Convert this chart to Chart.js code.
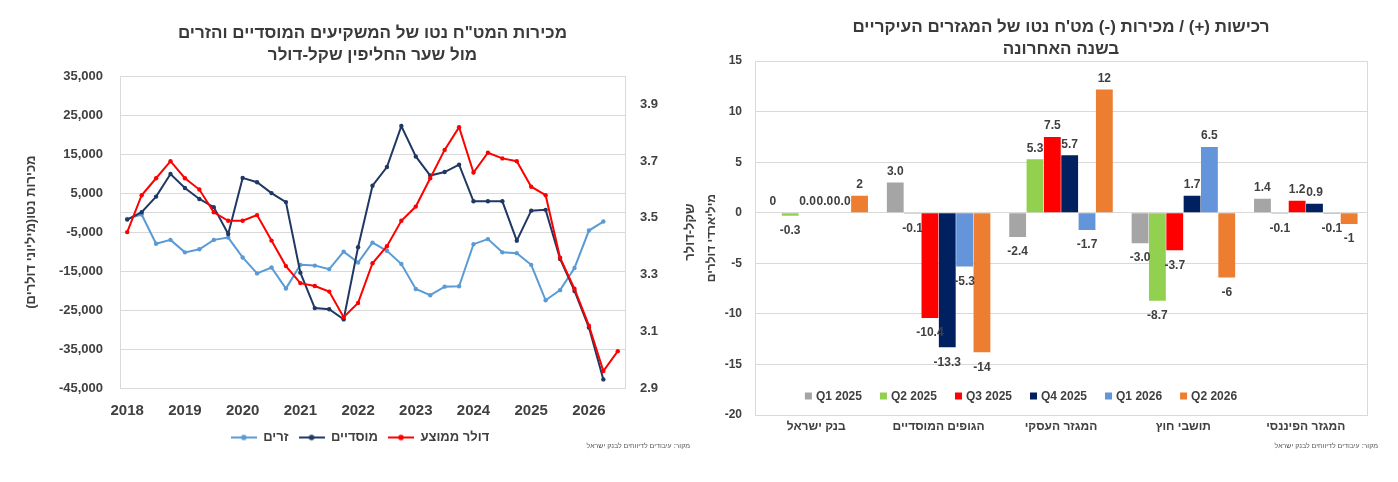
<!DOCTYPE html>
<html lang="he">
<head>
<meta charset="utf-8">
<title>מכירות מט"ח נטו</title>
<script src="https://cdn.jsdelivr.net/npm/chart.js@4.4.1/dist/chart.umd.min.js"></script>
<style>
  html, body { margin: 0; padding: 0; background: #fff; }
  #wrap { position: relative; width: 1398px; height: 482px; overflow: hidden; }
  #flowChart { position: absolute; left: 0; top: 0; }
  #sectorChart { position: absolute; left: 700px; top: 0; }
</style>
</head>
<body>
<div id="wrap">
  <canvas id="flowChart" width="700" height="482"></canvas>
  <canvas id="sectorChart" width="698" height="482"></canvas>
</div>
<script>
// ---- נתונים: גרף שמאלי (רבעוני) ----
const quarters = [
  'Q1 2018', 'Q2 2018', 'Q3 2018', 'Q4 2018',
  'Q1 2019', 'Q2 2019', 'Q3 2019', 'Q4 2019',
  'Q1 2020', 'Q2 2020', 'Q3 2020', 'Q4 2020',
  'Q1 2021', 'Q2 2021', 'Q3 2021', 'Q4 2021',
  'Q1 2022', 'Q2 2022', 'Q3 2022', 'Q4 2022',
  'Q1 2023', 'Q2 2023', 'Q3 2023', 'Q4 2023',
  'Q1 2024', 'Q2 2024', 'Q3 2024', 'Q4 2024',
  'Q1 2025', 'Q2 2025', 'Q3 2025', 'Q4 2025',
  'Q1 2026', 'Q2 2026', 'Q3 2026'
];

// זרים (מיליוני דולרים)
const foreigners = [
  -1600, -500, -8000, -7000, -10200, -9400, -7000, -6400,
  -11500, -15600, -14100, -19500, -13400, -13600, -14500, -10000,
  -12800, -7700, -9800, -13200, -19600, -21200, -19000, -18900,
  -8100, -6800, -10200, -10400, -13400, -22500, -19900, -14200,
  -4600, -2300, null
];

// מוסדיים (מיליוני דולרים)
const institutions = [
  -1800, 100, 4100, 9900, 6300, 3500, 1400, -5500,
  8900, 7800, 5000, 2700, -15400, -24500, -24800, -27400,
  -8900, 6900, 11700, 22200, 14400, 9500, 10400, 12300,
  2900, 2900, 2900, -7200, 500, 700, -11900, -20100,
  -29500, -42800, null
];

// דולר ממוצע (שקל-דולר)
const usdIls = [
  3.45, 3.58, 3.64, 3.70, 3.64, 3.60, 3.52, 3.49,
  3.49, 3.51, 3.42, 3.33, 3.27, 3.26, 3.24, 3.15,
  3.20, 3.34, 3.40, 3.49, 3.54, 3.64, 3.74, 3.82,
  3.66, 3.73, 3.71, 3.70, 3.61, 3.58, 3.36, 3.25,
  3.12, 2.96, 3.03
];

const flowTicks = [-45000, -35000, -25000, -15000, -5000, 5000, 15000, 25000, 35000];
const fxTicks = [2.9, 3.1, 3.3, 3.5, 3.7, 3.9];

// ---- נתונים: גרף ימני (מיליארדי דולרים) ----
const sectors = ['בנק ישראל', 'הגופים המוסדיים', 'המגזר העסקי', 'תושבי חוץ', 'המגזר הפיננסי'];
const periods = ['Q1 2025', 'Q2 2025', 'Q3 2025', 'Q4 2025', 'Q1 2026', 'Q2 2026'];

const q1_2025 = [0, 3.0, -2.4, -3.0, 1.4];
const q2_2025 = [-0.3, -0.1, 5.3, -8.7, -0.1];
const q3_2025 = [0, -10.4, 7.5, -3.7, 1.2];
const q4_2025 = [0, -13.3, 5.7, 1.7, 0.9];
const q1_2026 = [0, -5.3, -1.7, 6.5, -0.1];
const q2_2026 = [1.7, -13.8, 12.2, -6.4, -1.1];

// תוויות הערכים כפי שמופיעות בגרף
const q1_2025Text = ['0', '3.0', '-2.4', '-3.0', '1.4'];
const q2_2025Text = ['-0.3', '-0.1', '5.3', '-8.7', '-0.1'];
const q3_2025Text = ['0.0', '-10.4', '7.5', '-3.7', '1.2'];
const q4_2025Text = ['0.0', '-13.3', '5.7', '1.7', '0.9'];
const q1_2026Text = ['0.0', '-5.3', '-1.7', '6.5', '-0.1'];
const q2_2026Text = ['2', '-14', '12', '-6', '-1'];

const sectorTicks = [-20, -15, -10, -5, 0, 5, 10, 15];

const sectorSeries = [q1_2025, q2_2025, q3_2025, q4_2025, q1_2026, q2_2026];
const sectorText = [q1_2025Text, q2_2025Text, q3_2025Text, q4_2025Text, q1_2026Text, q2_2026Text];
const periodColors = ['#A5A5A5', '#92D050', '#FF0000', '#002060', '#6495DA', '#ED7D31'];

const SOURCE_TEXT = 'מקור: עיבודים לדיווחים לבנק ישראל';
const FONT = '"Liberation Sans", Arial, "DejaVu Sans", sans-serif';
const TEXT_COLOR = '#404040';
const GRID_COLOR = '#D9D9D9';

Chart.defaults.font.family = FONT;
Chart.defaults.color = TEXT_COLOR;

// מסגרת סביב אזור השרטוט
const plotFrame = {
  id: 'plotFrame',
  beforeDatasetsDraw(chart) {
    const { ctx, chartArea: a } = chart;
    ctx.save();
    ctx.strokeStyle = GRID_COLOR;
    ctx.lineWidth = 1;
    ctx.strokeRect(Math.round(a.left) + 0.5, Math.round(a.top) + 0.5,
      Math.round(a.right - a.left), Math.round(a.bottom - a.top));
    ctx.restore();
  }
};

// הערת מקור קטנה בתחתית
const sourceNote = {
  id: 'sourceNote',
  afterDraw(chart, args, opts) {
    const { ctx } = chart;
    ctx.save();
    ctx.font = '7px ' + FONT;
    ctx.fillStyle = '#595959';
    ctx.textAlign = 'right';
    ctx.textBaseline = 'middle';
    ctx.fillText(SOURCE_TEXT, chart.width - opts.inset, opts.y);
    ctx.restore();
  }
};

// כותרת ציר ימני, מסובבת כמו באקסל
const rightAxisTitle = {
  id: 'rightAxisTitle',
  afterDraw(chart) {
    const { ctx, chartArea: a } = chart;
    const s = chart.scales.y1;
    ctx.save();
    ctx.translate(s.right - 10, (a.top + a.bottom) / 2);
    ctx.rotate(-Math.PI / 2);
    ctx.font = 'bold 13px ' + FONT;
    ctx.fillStyle = TEXT_COLOR;
    ctx.textAlign = 'center';
    ctx.textBaseline = 'middle';
    ctx.fillText('שקל-דולר', 0, 0);
    ctx.restore();
  }
};

// סמן מקרא: קו עם נקודה
function lineMarker(color) {
  const c = document.createElement('canvas');
  c.width = 26;
  c.height = 8;
  const g = c.getContext('2d');
  g.strokeStyle = color;
  g.lineWidth = 2;
  g.beginPath();
  g.moveTo(0, 4);
  g.lineTo(26, 4);
  g.stroke();
  g.fillStyle = color;
  g.beginPath();
  g.arc(13, 4, 2.8, 0, Math.PI * 2);
  g.fill();
  return c;
}

// תוויות ערכים מעל/מתחת לעמודות
const barValueLabels = {
  id: 'barValueLabels',
  afterDatasetsDraw(chart) {
    const { ctx } = chart;
    ctx.save();
    ctx.font = 'bold 12px ' + FONT;
    ctx.fillStyle = TEXT_COLOR;
    ctx.textAlign = 'center';
    ctx.textBaseline = 'middle';
    chart.data.datasets.forEach((ds, di) => {
      const meta = chart.getDatasetMeta(di);
      meta.data.forEach((bar, i) => {
        const v = ds.data[i];
        const y = v >= 0 ? bar.y - 11 : bar.y + 15;
        ctx.fillText(sectorText[di][i], bar.x, y);
      });
    });
    ctx.restore();
  }
};

// מקרא בתוך אזור השרטוט
const barLegend = {
  id: 'barLegend',
  afterDraw(chart) {
    const { ctx, chartArea: a } = chart;
    ctx.save();
    ctx.font = 'bold 12px ' + FONT;
    ctx.textBaseline = 'middle';
    ctx.textAlign = 'left';
    const box = 7, gap = 4, space = 18;
    const items = chart.data.datasets.map(ds => ({
      text: ds.label, color: ds.backgroundColor, w: ctx.measureText(ds.label).width
    }));
    const total = items.reduce((s, it) => s + box + gap + it.w, 0) + space * (items.length - 1);
    let x = (a.left + a.right) / 2 - 40 - total / 2;
    const y = a.bottom - 19;
    items.forEach(it => {
      ctx.fillStyle = it.color;
      ctx.fillRect(x, y - box / 2, box, box);
      ctx.fillStyle = TEXT_COLOR;
      ctx.fillText(it.text, x + box + gap, y + 0.5);
      x += box + gap + it.w + space;
    });
    ctx.restore();
  }
};

// ---- גרף שמאלי ----
new Chart(document.getElementById('flowChart'), {
  type: 'line',
  data: {
    labels: quarters,
    datasets: [
      { label: 'זרים', data: foreigners, yAxisID: 'y', borderColor: '#5B9BD5', backgroundColor: '#5B9BD5', order: 2 },
      { label: 'מוסדיים', data: institutions, yAxisID: 'y', borderColor: '#1F3864', backgroundColor: '#1F3864', order: 1 },
      { label: 'דולר ממוצע', data: usdIls, yAxisID: 'y1', borderColor: '#FF0000', backgroundColor: '#FF0000', order: 0 }
    ]
  },
  options: {
    responsive: false,
    animation: false,
    layout: { padding: { left: 20, right: 0, top: 0, bottom: 28 } },
    elements: {
      line: { borderWidth: 2, tension: 0 },
      point: { radius: 2.2, borderWidth: 0, hoverRadius: 3 }
    },
    plugins: {
      tooltip: { enabled: false },
      title: {
        display: true,
        fullSize: false,
        text: ['מכירות המט"ח נטו של המשקיעים המוסדיים והזרים', 'מול שער החליפין שקל-דולר'],
        font: { size: 17, weight: 'bold', lineHeight: 1.27 },
        color: '#3a3a3a',
        padding: { top: 23, bottom: 10 }
      },
      legend: {
        position: 'bottom',
        labels: {
          usePointStyle: true,
          pointStyleWidth: 26,
          padding: 10,
          color: TEXT_COLOR,
          font: { size: 13, weight: 'bold' },
          generateLabels(chart) {
            const items = Chart.defaults.plugins.legend.labels.generateLabels(chart);
            items.forEach(it => {
              it.pointStyle = lineMarker(chart.data.datasets[it.datasetIndex].borderColor);
            });
            return items.sort((p, q) => p.datasetIndex - q.datasetIndex);
          }
        }
      },
      sourceNote: { inset: 10, y: 446 }
    },
    scales: {
      x: {
        offset: true,
        grid: { display: false, drawTicks: false },
        border: { display: false },
        afterFit(scale) { scale.height = 33; },
        ticks: {
          autoSkip: false,
          maxRotation: 0,
          padding: 14,
          color: TEXT_COLOR,
          font: { size: 15, weight: 'bold' },
          callback(value, index) {
            const q = quarters[index];
            return q.startsWith('Q1') ? q.slice(3) : '';
          }
        }
      },
      y: {
        position: 'left',
        min: -45000,
        max: 35000,
        afterBuildTicks(scale) {
          scale.ticks = flowTicks.concat([0]).sort((p, q) => p - q).map(v => ({ value: v }));
        },
        afterFit(scale) { scale.width = 100; },
        grid: { color: GRID_COLOR, drawTicks: false },
        border: { display: false },
        ticks: {
          padding: 17,
          color: TEXT_COLOR,
          font: { size: 13, weight: 'bold' },
          callback: v => (v === 0 ? '' : v.toLocaleString('en-US'))
        },
        title: {
          display: true,
          text: 'מכירות נטו(מיליוני דולרים)\u200F',
          color: TEXT_COLOR,
          font: { size: 13, weight: 'bold' },
          padding: { top: 4, bottom: 0 }
        }
      },
      y1: {
        position: 'right',
        min: 2.9,
        max: 4.0,
        afterBuildTicks(scale) {
          scale.ticks = fxTicks.map(v => ({ value: v }));
        },
        afterFit(scale) { scale.width = 75; },
        grid: { display: false, drawTicks: false },
        border: { display: false },
        ticks: {
          padding: 15,
          color: TEXT_COLOR,
          font: { size: 13, weight: 'bold' },
          callback: v => Number(v).toFixed(1)
        }
      }
    }
  },
  plugins: [plotFrame, rightAxisTitle, sourceNote]
});

// ---- גרף ימני ----
new Chart(document.getElementById('sectorChart'), {
  type: 'bar',
  data: {
    labels: sectors,
    datasets: periods.map((p, k) => ({
      label: p,
      data: sectorSeries[k],
      backgroundColor: periodColors[k]
    }))
  },
  options: {
    responsive: false,
    animation: false,
    layout: { padding: { left: 0, right: 31, top: 0, bottom: 49 } },
    datasets: { bar: { categoryPercentage: 0.85, barPercentage: 0.97 } },
    plugins: {
      tooltip: { enabled: false },
      legend: { display: false },
      title: {
        display: true,
        fullSize: false,
        text: ["רכישות (+) / מכירות (-) מט'ח נטו של המגזרים העיקריים", 'בשנה האחרונה'],
        font: { size: 17, weight: 'bold', lineHeight: 1.27 },
        color: '#3a3a3a',
        padding: { top: 17, bottom: 1 }
      },
      sourceNote: { inset: 20, y: 446 }
    },
    scales: {
      x: {
        grid: { display: false, drawTicks: false },
        border: { display: false },
        afterFit(scale) { scale.height = 18; },
        ticks: {
          autoSkip: false,
          maxRotation: 0,
          padding: 4,
          color: TEXT_COLOR,
          font: { size: 12, weight: 'bold' }
        }
      },
      y: {
        min: -20,
        max: 15,
        afterBuildTicks(scale) {
          scale.ticks = sectorTicks.map(v => ({ value: v }));
        },
        afterFit(scale) { scale.width = 55; },
        grid: { color: GRID_COLOR, drawTicks: false },
        border: { display: false },
        ticks: {
          padding: 13,
          color: TEXT_COLOR,
          font: { size: 12, weight: 'bold' }
        },
        title: {
          display: true,
          text: 'מיליארדי דולרים',
          color: TEXT_COLOR,
          font: { size: 12, weight: 'bold' },
          padding: { top: 4, bottom: 0 }
        }
      }
    }
  },
  plugins: [plotFrame, barValueLabels, barLegend, sourceNote]
});
</script>
</body>
</html>
